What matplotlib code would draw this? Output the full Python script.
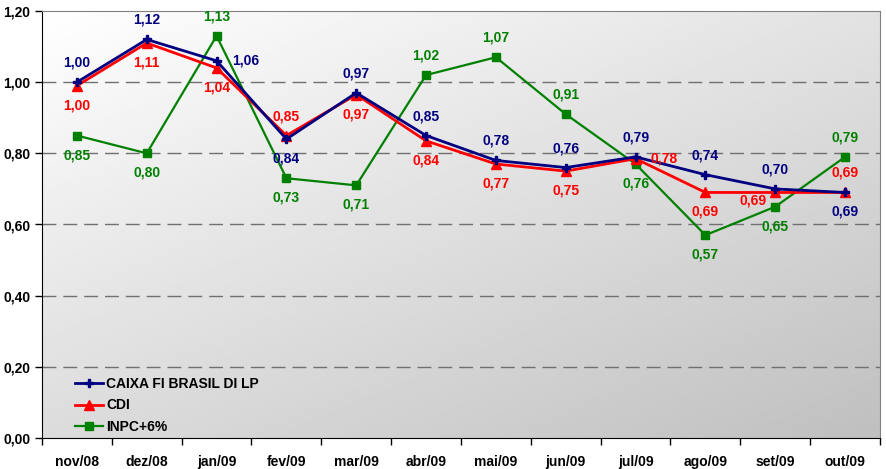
import numpy as np
import matplotlib.pyplot as plt
from matplotlib.ticker import FixedLocator, NullFormatter

months = ["nov/08", "dez/08", "jan/09", "fev/09", "mar/09", "abr/09",
          "mai/09", "jun/09", "jul/09", "ago/09", "set/09", "out/09"]
caixa = [1.00, 1.12, 1.06, 0.84, 0.97, 0.85, 0.78, 0.76, 0.79, 0.74, 0.70, 0.69]
cdi = [0.99, 1.11, 1.04, 0.85, 0.965, 0.835, 0.77, 0.75, 0.785, 0.69, 0.69, 0.69]
inpc = [0.85, 0.80, 1.13, 0.73, 0.71, 1.02, 1.07, 0.91, 0.77, 0.57, 0.65, 0.79]

caixa_txt = ["1,00", "1,12", "1,06", "0,84", "0,97", "0,85", "0,78", "0,76", "0,79", "0,74", "0,70", "0,69"]
cdi_txt = ["1,00", "1,11", "1,04", "0,85", "0,97", "0,84", "0,77", "0,75", "0,78", "0,69", "0,69", "0,69"]
inpc_txt = ["0,85", "0,80", "1,13", "0,73", "0,71", "1,02", "1,07", "0,91", "0,76", "0,57", "0,65", "0,79"]

# where each value label sits relative to its point
caixa_pos = ["u", "u", "r", "d", "u", "u", "u", "u", "u", "u", "u", "d"]
cdi_pos = ["d", "d", "d", "u", "d", "d", "d", "d", "r", "d", "l", "u"]
inpc_pos = ["d", "d", "u", "d", "d", "u", "u", "u", "d", "d", "d", "u"]

NAVY, RED, GREEN = "#000080", "#FF0000", "#008000"

plt.rcParams['font.family'] = ['Liberation Sans', 'DejaVu Sans']
plt.rcParams['font.weight'] = 'bold'

fig = plt.figure(figsize=(8.86, 4.69), dpi=100)
ax = fig.add_axes([42 / 886, 31 / 469, 838 / 886, 427 / 469])

x = np.arange(len(months))
ax.set_xlim(-0.5, len(months) - 0.5)
ax.set_ylim(0, 1.2)

# diagonal gradient background, white top-left -> gray bottom-right
gx, gy = np.meshgrid(np.linspace(0, 1, 200), np.linspace(0, 1, 200))
g = 1.0 - 0.25 * (0.45 * gx + 0.55 * gy)
ax.imshow(g, cmap='gray', vmin=0, vmax=1, extent=(-0.5, len(months) - 0.5, 0, 1.2),
          origin='upper', aspect='auto', zorder=0, interpolation='bilinear')

for yv in [0.2, 0.4, 0.6, 0.8, 1.0]:
    ax.axhline(yv, color='#707070', lw=1, dashes=(10, 5), zorder=1)

ax.plot(x, caixa, color=NAVY, lw=2, marker='P', ms=6, label='CAIXA FI BRASIL DI LP', zorder=4)
ax.plot(x, cdi, color=RED, lw=2, marker='^', ms=7, label='CDI', zorder=3)
ax.plot(x, inpc, color=GREEN, lw=1.6, marker='s', ms=6, label='INPC+6%', zorder=2)

offs = {"u": (0, 9, 'center', 'bottom'), "d": (0, -9, 'center', 'top'),
        "r": (11, 0, 'left', 'center'), "l": (-6, -6, 'right', 'center')}


def put_labels(vals, txts, pos, color):
    for xi, v, t, p in zip(x, vals, txts, pos):
        dx, dy, ha, va = offs[p]
        ax.annotate(t, (xi, v), xytext=(dx, dy), textcoords='offset points',
                    ha=ha, va=va, color=color, fontsize=10, fontweight='bold', zorder=5)


put_labels(caixa, caixa_txt, caixa_pos, NAVY)
put_labels(cdi, cdi_txt, cdi_pos, RED)
put_labels(inpc, inpc_txt, inpc_pos, GREEN)

ax.set_yticks([0, 0.2, 0.4, 0.6, 0.8, 1.0, 1.2])
ax.set_yticklabels(["0,00", "0,20", "0,40", "0,60", "0,80", "1,00", "1,20"])
ax.set_xticks(x)
ax.set_xticklabels(months)
ax.xaxis.set_minor_locator(FixedLocator(np.arange(-0.5, len(months), 1)))
ax.xaxis.set_minor_formatter(NullFormatter())
ax.tick_params(axis='x', which='major', length=0, pad=12, labelsize=10)
ax.tick_params(axis='x', which='minor', length=5, width=1)
ax.tick_params(axis='y', length=5, width=1, labelsize=10)
for lab in ax.get_xticklabels() + ax.get_yticklabels():
    lab.set_fontweight('bold')

ax.spines['left'].set_color('black')
ax.spines['bottom'].set_color('black')
ax.spines['top'].set_color('#808080')
ax.spines['right'].set_color('#808080')

leg = ax.legend(loc='lower left', bbox_to_anchor=(0.025, -0.02), frameon=False,
                fontsize=10, handlelength=2.0, handletextpad=0.2, labelspacing=0.55)
for t in leg.get_texts():
    t.set_fontweight('bold')

fig.savefig('out.png', dpi=100)
